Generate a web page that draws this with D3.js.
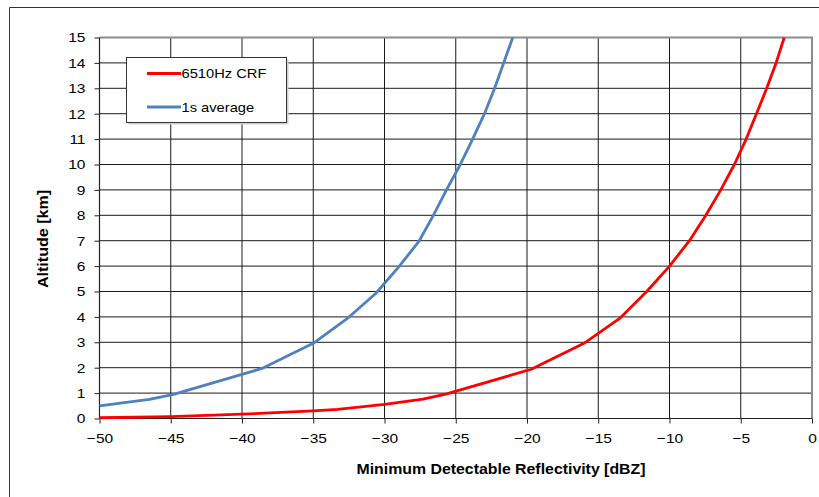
<!DOCTYPE html>
<html>
<head>
<meta charset="utf-8">
<script src="https://cdn.jsdelivr.net/npm/d3@7"></script>
<style>
    body { margin: 0; background: #fff; }
    text { font-family: "Liberation Sans", Arial, sans-serif; }
</style>
</head>
<body>
<svg id="chart" width="819" height="497"></svg>
<script>
// series values: reflectivity [dBZ] vs altitude [km]
const crfX   = [-50, -45, -40, -35, -33.3, -30, -27.3, -25.7, -19.7, -16.0, -13.5, -11.6, -10.0, -8.6, -7.45, -6.4, -5.45, -4.62, -3.9, -3.18, -2.52, -1.95];
const crfAlt = [0.03, 0.07, 0.17, 0.3, 0.36, 0.56, 0.76, 0.96, 1.94, 2.96, 3.94, 5, 6, 7, 8, 9, 10, 11, 12, 13, 14, 15];

const avgX   = [-50, -46.5, -44.8, -38.6, -35, -32.65, -30.6, -29.0, -27.6, -26.6, -25.65, -24.7, -23.85, -23.0, -22.3, -21.65, -21.0];
const avgAlt = [0.5, 0.75, 0.95, 1.97, 2.96, 3.92, 4.93, 5.97, 6.96, 7.97, 9, 9.98, 10.96, 11.98, 12.96, 13.98, 15];

const xTicks = [-50, -45, -40, -35, -30, -25, -20, -15, -10, -5, 0];
const yTicks = d3.range(0, 16);

const seriesNames  = ["6510Hz CRF", "1s average"];
const seriesColors = ["#ff0000", "#4f81bd"];

const plotL = 99.5, plotR = 812, plotT = 37.5, plotB = 418.5;

const svg = d3.select("#chart");

// the original renders text a bit wider than Arial, so stretch it along the baseline
function widen(sel, k) {
    sel.each(function() {
        const len = this.getComputedTextLength();
        d3.select(this)
            .attr("textLength", len * k)
            .attr("lengthAdjust", "spacingAndGlyphs");
    });
}

// outer chart border (only left and top edges are in frame)
svg.append("path")
    .attr("d", "M9.5,497V7.5H819")
    .attr("fill", "none")
    .attr("stroke", "#333")
    .attr("stroke-width", 1);

const x = d3.scaleLinear().domain([-50, 0]).range([plotL, plotR]);
const y = d3.scaleLinear().domain([0, 15]).range([plotB, plotT]);

// grid
svg.append("g").selectAll("line")
    .data(xTicks.slice(1, -1))
    .enter().append("line")
    .attr("x1", d => x(d)).attr("x2", d => x(d))
    .attr("y1", plotT).attr("y2", plotB)
    .attr("stroke", "#1a1a1a").attr("stroke-width", 1);
svg.append("g").selectAll("line")
    .data(yTicks.slice(1, -1))
    .enter().append("line")
    .attr("x1", plotL).attr("x2", plotR)
    .attr("y1", d => y(d)).attr("y2", d => y(d))
    .attr("stroke", "#1a1a1a").attr("stroke-width", 1);

// plot frame top/right (grey)
svg.append("path")
    .attr("d", `M${plotL},${plotT}H${plotR}V${plotB}`)
    .attr("fill", "none")
    .attr("stroke", "#8c8c8c")
    .attr("stroke-width", 2);

// axes
const xAxis = svg.append("g")
    .attr("transform", `translate(0,${plotB})`)
    .call(d3.axisBottom(x).tickValues(xTicks).tickSize(5).tickPadding(10).tickFormat(d3.format("d")));
const yAxis = svg.append("g")
    .attr("transform", `translate(${plotL},0)`)
    .call(d3.axisLeft(y).tickValues(yTicks).tickSize(5).tickPadding(9).tickFormat(d3.format("d")));

[xAxis, yAxis].forEach(a => {
    a.select(".domain").attr("stroke", "#222").attr("stroke-width", 1.2);
    a.selectAll(".tick line").attr("stroke", "#222");
    a.selectAll(".tick text")
        .attr("font-size", "13.5px")
        .attr("font-family", "Liberation Sans, Arial, sans-serif")
        .attr("fill", "#000")
        .call(widen, 1.15);
});
xAxis.select(".domain").attr("d", `M${plotL},0H${plotR}`);
yAxis.select(".domain").attr("d", `M0,${plotB}V${plotT}`);

// series lines
const lineFun = d3.line()
    .x(d => x(d[0]))
    .y(d => y(d[1]))
    .curve(d3.curveLinear);

const series = [d3.zip(crfX, crfAlt), d3.zip(avgX, avgAlt)];

svg.append("g").selectAll("path")
    .data(series)
    .enter().append("path")
    .attr("d", d => lineFun(d))
    .attr("fill", "none")
    .attr("stroke", (d, i) => seriesColors[i])
    .attr("stroke-width", 2.8)
    .attr("stroke-linejoin", "round");

// axis titles
svg.append("text")
    .text("Minimum Detectable Reflectivity [dBZ]")
    .attr("x", 501).attr("y", 474)
    .attr("text-anchor", "middle")
    .attr("font-size", "14px")
    .attr("font-weight", "bold")
    .attr("textLength", 289)
    .attr("lengthAdjust", "spacingAndGlyphs");
svg.append("text")
    .text("Altitude [km]")
    .attr("transform", "translate(48,239) rotate(-90)")
    .attr("text-anchor", "middle")
    .attr("font-size", "14px")
    .attr("font-weight", "bold")
    .attr("textLength", 98)
    .attr("lengthAdjust", "spacingAndGlyphs");

// legend
const legend = svg.append("g");
legend.append("rect")
    .attr("x", 128.5).attr("y", 59.5).attr("width", 160).attr("height", 65)
    .attr("fill", "#d0d0d0");
legend.append("rect")
    .attr("x", 126.5).attr("y", 57.5).attr("width", 160).attr("height", 65)
    .attr("fill", "#fff").attr("stroke", "#333").attr("stroke-width", 1);

const entries = legend.selectAll("g.entry")
    .data(seriesNames)
    .enter().append("g")
    .attr("transform", (d, i) => `translate(0,${73.5 + i * 33.5})`);
entries.append("line")
    .attr("x1", 147).attr("x2", 181)
    .attr("stroke", (d, i) => seriesColors[i])
    .attr("stroke-width", 2.8);
entries.append("text")
    .text(d => d)
    .attr("x", 181.5)
    .attr("dy", "0.35em")
    .attr("font-size", "13px")
    .attr("fill", "#000")
    .call(widen, 1.13);
</script>
</body>
</html>
